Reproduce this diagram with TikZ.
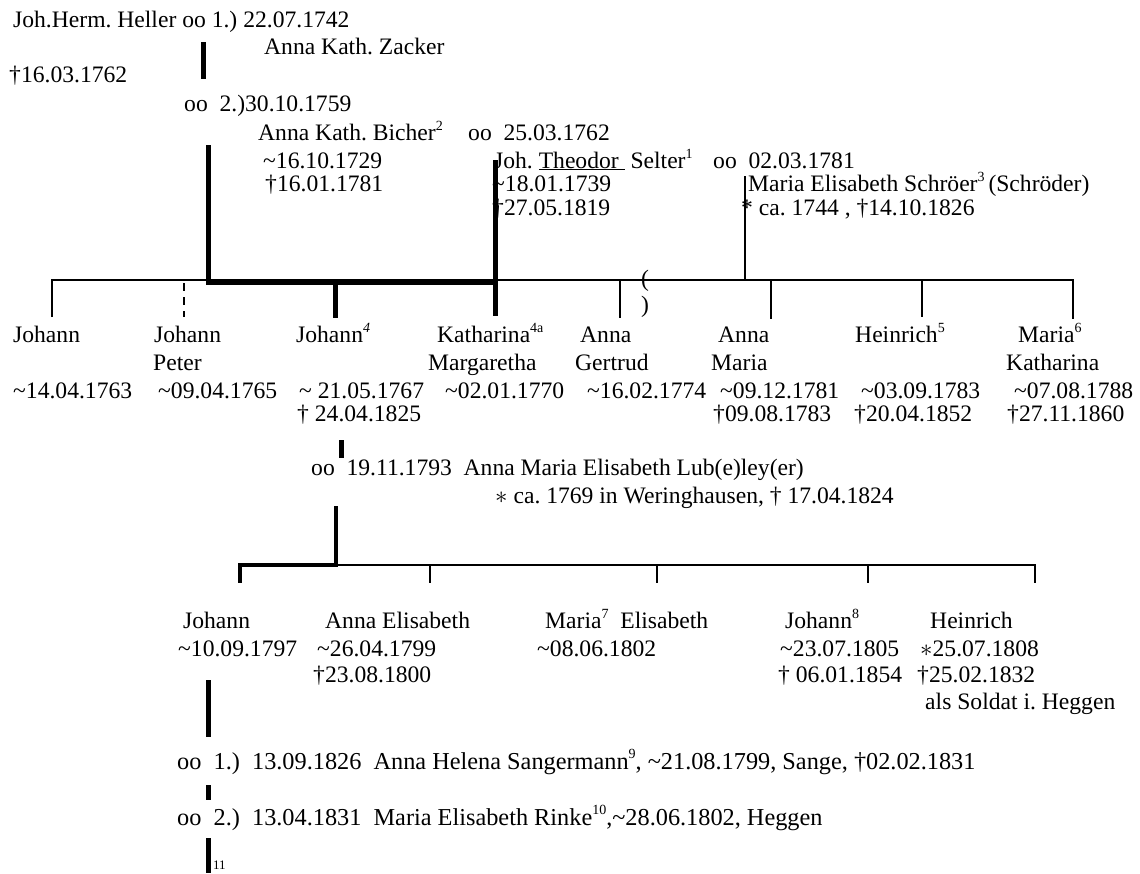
\documentclass[tikz,border=0pt]{standalone}
\usepackage{fontspec}
\setmainfont{Liberation Serif}
\frenchspacing
\newcommand{\fnm}[1]{\raisebox{0.42em}{\fontsize{14pt}{14pt}\selectfont #1}}
\newcommand{\bap}{\textasciitilde}
\begin{document}
\begin{tikzpicture}[x=1pt,y=-1pt,
  txt/.style={anchor=base west, inner sep=0pt, font=\fontsize{23.6pt}{28pt}\selectfont},
  widetxt/.style={txt, font=\fontsize{24.3pt}{28pt}\selectfont},
  bar/.style={line width=5pt},
  midbar/.style={line width=4pt},
  thinl/.style={line width=2pt},
  hair/.style={line width=1.5pt}]
\useasboundingbox (0,0) rectangle (1140,873);
% ---------- top generation ----------
\node[txt] (heller) at (13,27) {Joh.Herm. Heller oo 1.) 22.07.1742};
\node[txt] (zacker) at (264,54) {Anna Kath. Zacker};
\node[txt] (hellerd) at (9,82) {†16.03.1762};
\node[txt] (oo2) at (184,111) {oo\ \ 2.)30.10.1759};
\node[txt] (bicher) at (258,140) {Anna Kath. Bicher\fnm{2}};
\node[txt] (oo3) at (468,140) {oo\ \ 25.03.1762};
\node[txt] (bicherb) at (263,168) {\bap16.10.1729};
\node[txt] (bicherd) at (265,191) {†16.01.1781};
\node[txt] (theodor) at (494,168) {Joh. \underline{Theodor\ } Selter\fnm{1}};
\node[txt] (oo4) at (713,168) {oo\ \ 02.03.1781};
\node[txt] (theodorb) at (492,191) {\bap18.01.1739};
\node[txt] (theodord) at (492,215) {†27.05.1819};
\node[txt] (schroer) at (748,191) {Maria Elisabeth Schröer\fnm{3}\,(Schröder)};
\node[txt] (schroerd) at (741,215) {* ca. 1744 , †14.10.1826};
% ---------- connectors, first family ----------
\coordinate (b1t) at (203,42);  \coordinate (b1b) at (203,79);
\draw[bar] (b1t) -- (b1b);
\coordinate (hv) at (208,145); \coordinate (hh) at (493,282.5);
\draw[bar] (hv) |- (hh);
\coordinate (tt) at (495.5,160); \coordinate (tb) at (495.5,316);
\draw[bar] (tt) -- (tb);
\coordinate (l1) at (52,317); \coordinate (l1a) at (52,280);
\coordinate (r1a) at (1073,280); \coordinate (r1) at (1073,319);
\draw[thinl] (l1) -- (l1a) -- (r1a) -- (r1);
\coordinate (jp1) at (184,283); \coordinate (jp2) at (184,317);
\draw[thinl, dash pattern=on 8pt off 6pt] (jp1) -- (jp2);
\coordinate (j4a) at (335.5,283); \coordinate (j4b) at (335.5,318);
\draw[bar] (j4a) -- (j4b);
\coordinate (aga) at (619.5,280); \coordinate (agb) at (619.5,318);
\draw[thinl] (aga) -- (agb);
\coordinate (sa) at (745,176); \coordinate (sb) at (745,280);
\draw[hair] (sa) -- (sb);
\coordinate (ama) at (770.5,280); \coordinate (amb) at (770.5,319);
\draw[thinl] (ama) -- (amb);
\coordinate (hea) at (922,280); \coordinate (heb) at (922,317);
\draw[thinl] (hea) -- (heb);
\node[txt] (pl) at (641,286) {(};
\node[txt] (pr) at (641,312) {)};
% ---------- children row 1 ----------
\node[txt] (c1) at (13,342) {Johann};
\node[txt] (c1b) at (13,398) {\bap14.04.1763};
\node[txt] (c2) at (154,342) {Johann};
\node[txt] (c2n) at (153,370) {Peter};
\node[txt] (c2b) at (158,398) {\bap09.04.1765};
\node[txt] (c3) at (296,342) {Johann\fnm{\itshape 4}};
\node[txt] (c3b) at (299,398) {\bap\ 21.05.1767};
\node[txt] (c3d) at (297,421) {† 24.04.1825};
\node[txt] (c4) at (437,342) {Katharina\fnm{4a}};
\node[txt] (c4n) at (428,370) {Margaretha};
\node[txt] (c4b) at (445,398) {\bap02.01.1770};
\node[txt] (c5) at (580,342) {Anna};
\node[txt] (c5n) at (575,370) {Gertrud};
\node[txt] (c5b) at (587,398) {\bap16.02.1774};
\node[txt] (c6) at (718,342) {Anna};
\node[txt] (c6n) at (711,370) {Maria};
\node[txt] (c6b) at (720,398) {\bap09.12.1781};
\node[txt] (c6d) at (713,421) {†09.08.1783};
\node[txt] (c7) at (855,342) {Heinrich\fnm{5}};
\node[txt] (c7b) at (861,398) {\bap03.09.1783};
\node[txt] (c7d) at (854,421) {†20.04.1852};
\node[txt] (c8) at (1018,342) {Maria\fnm{6}};
\node[txt] (c8n) at (1006,370) {Katharina};
\node[txt] (c8b) at (1014,398) {\bap07.08.1788};
\node[txt] (c8d) at (1007,421) {†27.11.1860};
% ---------- marriage of Johann ----------
\coordinate (m1) at (341.5,440); \coordinate (m2) at (341.5,458);
\draw[bar] (m1) -- (m2);
\node[txt] (oo5) at (311,475) {oo\ \ 19.11.1793\ \ Anna Maria Elisabeth Lub(e)ley(er)};
\node[txt] (lubd) at (495,503) {$\ast$ ca. 1769 in Weringhausen, † 17.04.1824};
\coordinate (m3) at (335.5,506); \coordinate (m4) at (240,565); \coordinate (m5) at (240,583);
\draw[midbar] (m3) |- (m4) -- (m5);
\coordinate (l2a) at (335,565); \coordinate (l2b) at (1035,565); \coordinate (l2c) at (1035,583);
\draw[thinl] (l2a) -- (l2b) -- (l2c);
\foreach \xx [count=\i] in {430,657,868}{
  \coordinate (t\i a) at (\xx,565); \coordinate (t\i b) at (\xx,583);
  \draw[thinl] (t\i a) -- (t\i b);
}
% ---------- children row 2 ----------
\node[txt] (d1) at (183,628) {Johann};
\node[txt] (d1b) at (178,656) {\bap10.09.1797};
\node[txt] (d2) at (325,628) {Anna Elisabeth};
\node[txt] (d2b) at (317,656) {\bap26.04.1799};
\node[txt] (d2d) at (313,682) {†23.08.1800};
\node[txt] (d3) at (545,628) {Maria\fnm{7}\ \ Elisabeth};
\node[txt] (d3b) at (537,656) {\bap08.06.1802};
\node[txt] (d4) at (785,628) {Johann\fnm{8}};
\node[txt] (d4b) at (780,656) {\bap23.07.1805};
\node[txt] (d4d) at (778,682) {† 06.01.1854};
\node[txt] (d5) at (930,628) {Heinrich};
\node[txt] (d5b) at (920,656) {$\ast$25.07.1808};
\node[txt] (d5d) at (917,682) {†25.02.1832};
\node[txt] (d5n) at (925,709) {als Soldat i. Heggen};
% ---------- Johann's marriages ----------
\coordinate (n1) at (208,680); \coordinate (n2) at (208,737);
\draw[bar] (n1) -- (n2);
\node[widetxt] (oo6) at (177,769) {oo\ \ 1.)\ \ 13.09.1826\ \ Anna Helena Sangermann\fnm{9}, \bap21.08.1799, Sange, †02.02.1831};
\coordinate (n3) at (208,785); \coordinate (n4) at (208,800);
\draw[bar] (n3) -- (n4);
\node[widetxt] (oo7) at (177,825) {oo\ \ 2.)\ \ 13.04.1831\ \ Maria Elisabeth Rinke\fnm{10},\bap28.06.1802, Heggen};
\coordinate (n5) at (208,838); \coordinate (n6) at (208,873);
\draw[bar] (n5) -- (n6);
\node[anchor=base west, inner sep=0pt, font=\fontsize{13pt}{13pt}\selectfont] (fn11) at (213,869) {11};
\end{tikzpicture}
\end{document}
